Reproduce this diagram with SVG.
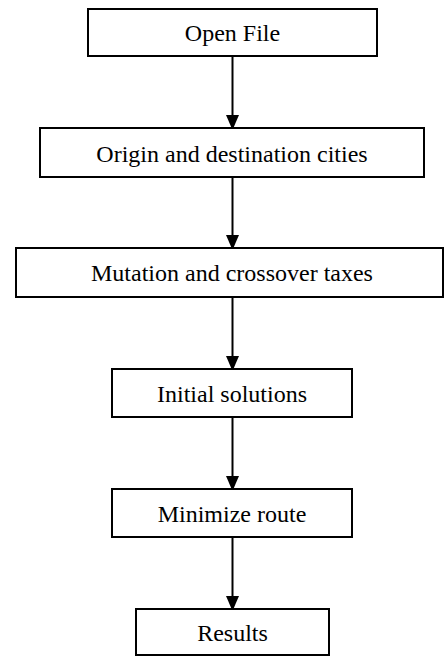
<svg xmlns="http://www.w3.org/2000/svg" width="444" height="657" viewBox="0 0 444 657">
<style>
.box{fill:#fff;stroke:#000;stroke-width:2}
.lbl{font-family:"Liberation Serif","Times New Roman",serif;font-size:24px;fill:#000;text-anchor:middle}
.edge{stroke:#000;stroke-width:2;fill:none;marker-end:url(#arr)}
</style>
<defs>
<marker id="arr" viewBox="0 0 13 15" refX="13" refY="6.5" markerWidth="13" markerHeight="15" markerUnits="userSpaceOnUse" orient="auto">
<path d="M0,0 L15,6.5 L0,13 Z" fill="#000"/>
</marker>
</defs>
<rect width="444" height="657" fill="#fff"/>
<g id="connectors">
<line class="edge" x1="232.5" y1="56" x2="232.5" y2="128"/>
<line class="edge" x1="232.5" y1="177" x2="232.5" y2="248"/>
<line class="edge" x1="232.5" y1="297" x2="232.5" y2="369"/>
<line class="edge" x1="232.5" y1="417" x2="232.5" y2="489"/>
<line class="edge" x1="232.5" y1="537" x2="232.5" y2="609"/>
</g>
<g id="open-file">
<rect class="box" x="88" y="9" width="289" height="47"/>
<text class="lbl" x="232.5" y="41">Open File</text>
</g>
<g id="origin-destination">
<rect class="box" x="40" y="128" width="384" height="49"/>
<text class="lbl" x="232" y="161.5">Origin and destination cities</text>
</g>
<g id="mutation-crossover">
<rect class="box" x="16" y="248" width="427" height="49"/>
<text class="lbl" x="232" y="280.5">Mutation and crossover taxes</text>
</g>
<g id="initial-solutions">
<rect class="box" x="112" y="369" width="240" height="48"/>
<text class="lbl" x="232" y="401.5">Initial solutions</text>
</g>
<g id="minimize-route">
<rect class="box" x="112" y="489" width="240" height="48"/>
<text class="lbl" x="232" y="521.5">Minimize route</text>
</g>
<g id="results">
<rect class="box" x="136" y="609" width="193" height="46"/>
<text class="lbl" x="232.5" y="641">Results</text>
</g>
</svg>
